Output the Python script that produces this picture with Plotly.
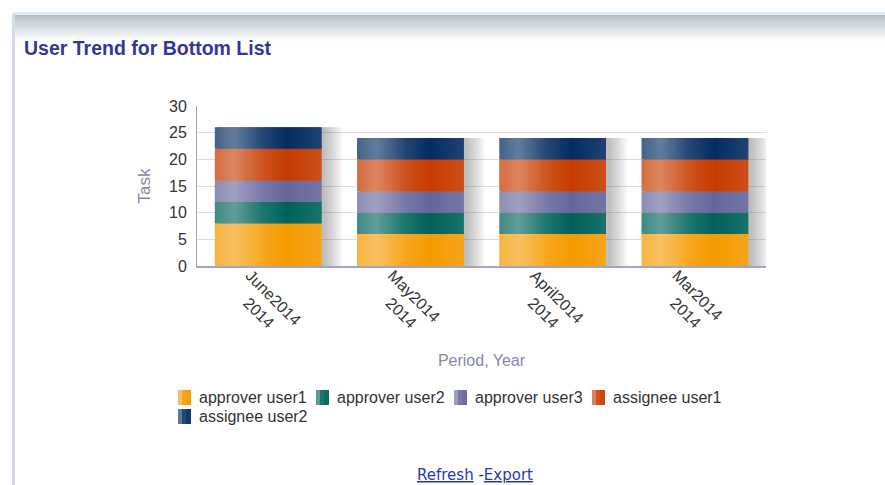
import numpy as np
import plotly.graph_objects as go

# ---- data -------------------------------------------------------------
periods = ["June", "May", "April", "Mar"]
years = ["2014", "2014", "2014", "2014"]
series_names = ["approver user1", "approver user2", "approver user3",
                "assignee user1", "assignee user2"]
approver_user1 = [8, 6, 6, 6]
approver_user2 = [4, 4, 4, 4]
approver_user3 = [4, 4, 4, 4]
assignee_user1 = [6, 6, 6, 6]
assignee_user2 = [4, 4, 4, 4]
y_tick_values = [0, 5, 10, 15, 20, 25, 30]

series_values = [approver_user1, approver_user2, approver_user3,
                 assignee_user1, assignee_user2]
# darkest tone of each series; lighter tones are mixed towards white
series_colors = ["#F59B00", "#00625A", "#66669A", "#C63C00", "#052D62"]

# ---- geometry of the plotting area (px) --------------------------------
W_FIG, H_FIG = 885, 485
L, T, PW, PH = 197, 106, 569, 160


def px(xp):
    return (xp - L) / PW


def py(yp):
    return (T + PH - yp) / PH


def hex_to_rgb(h):
    h = h.lstrip("#")
    return [int(h[i:i + 2], 16) for i in (0, 2, 4)]


def lighten(h, a):
    r, g, b = hex_to_rgb(h)
    mix = [round(c * (1 - a) + 255 * a) for c in (r, g, b)]
    return "rgb({},{},{})".format(*mix)


# cylinder-like shading profile across a bar (0 = left edge, 1 = right edge)
shade_t = [0.0, 0.18, 0.45, 0.68, 1.0]
shade_l = [0.25, 0.38, 0.12, 0.0, 0.10]


def shade(h, t):
    return lighten(h, float(np.interp(t, shade_t, shade_l)))


cats = [f"{p}{y}" for p, y in zip(periods, years)]
tick_text = [f"{p}{y}<br>" + "\u00a0" * 4 + y for p, y in zip(periods, years)]

totals = np.sum(np.array(series_values), axis=0)
bases = np.vstack([np.zeros(len(cats)),
                   np.cumsum(np.array(series_values), axis=0)[:-1]])

BAR_W = 0.75
N_STRIPS = 40
UNIT_PX = PW / len(cats)

fig = go.Figure()

# soft drop shadow to the right of each stacked column
N_SH = 14
for k in range(N_SH, 0, -1):
    ext = (k * 1.4) / UNIT_PX
    fig.add_trace(go.Bar(
        x=cats, y=totals, base=[0] * len(cats),
        offset=-BAR_W / 2 + 2 / UNIT_PX, width=BAR_W + ext,
        marker=dict(color="rgba(70,70,85,0.026)", line=dict(width=0)),
        showlegend=False, hoverinfo="skip"))

# shaded stacked columns, drawn as thin overlapping vertical strips
strip_w = BAR_W / N_STRIPS
for s, (name, vals, col) in enumerate(zip(series_names, series_values, series_colors)):
    for j in range(N_STRIPS):
        t = (j + 0.5) / N_STRIPS
        fig.add_trace(go.Bar(
            x=cats, y=vals, base=bases[s],
            offset=-BAR_W / 2 + j * strip_w,
            width=strip_w * (2.0 if j < N_STRIPS - 1 else 1.0),
            marker=dict(color=shade(col, t), line=dict(width=0)),
            name=name, showlegend=False, hoverinfo="skip"))

axis_col = "#A3A3C2"
title_col = "#8787A8"

fig.update_layout(
    width=W_FIG, height=H_FIG,
    margin=dict(l=L, r=W_FIG - L - PW, t=T, b=H_FIG - T - PH),
    paper_bgcolor="white", plot_bgcolor="white",
    barmode="overlay", bargap=0.25,
    showlegend=False,
    font=dict(family="Liberation Sans, Arial, sans-serif", size=16, color="#333333"),
    xaxis=dict(
        type="category", categoryorder="array", categoryarray=cats,
        tickmode="array", tickvals=cats, ticktext=tick_text,
        tickangle=45, showgrid=False, zeroline=False,
        showline=True, linecolor=axis_col, linewidth=2,
        ticklabelshift=-18, ticklabelstandoff=-8,
        tickfont=dict(size=16, color="#333333"),
        title=dict(text="Period, Year", font=dict(size=16, color=title_col), standoff=12),
        range=[-0.5, len(cats) - 0.5],
    ),
    yaxis=dict(
        range=[0, 30], tickmode="array", tickvals=y_tick_values,
        showgrid=True, gridcolor="#DCDCE6", gridwidth=1, zeroline=False,
        showline=True, linecolor=axis_col, linewidth=1,
        ticks="", ticklabelstandoff=6,
        tickfont=dict(size=16, color="#333333"),
        title=dict(text="Task", font=dict(size=17, color=title_col), standoff=14),
    ),
)

# ---- panel decoration: header band and left border ----------------------
shapes = []
shapes.append(dict(type="rect", xref="paper", yref="paper",
                   x0=px(13), x1=px(W_FIG), y0=py(15), y1=py(12),
                   fillcolor="#E4EAF2", line=dict(width=0), layer="below"))
band_top, band_bot = 15, 42
n_band = band_bot - band_top
for i in range(n_band):
    a = (i / (n_band - 1)) ** 0.9
    shapes.append(dict(type="rect", xref="paper", yref="paper",
                       x0=px(13), x1=px(W_FIG),
                       y0=py(band_top + i + 1), y1=py(band_top + i),
                       fillcolor=lighten("#B5BEC8", a), line=dict(width=0), layer="below"))
shapes.append(dict(type="rect", xref="paper", yref="paper",
                   x0=px(12), x1=px(15), y0=py(H_FIG), y1=py(14),
                   fillcolor="#D3DBE5", line=dict(width=0), layer="below"))
fig.update_layout(shapes=shapes)

# ---- title, legend and links ------------------------------------------
ann = []
ann.append(dict(text="<b>User Trend for Bottom List</b>", xref="paper", yref="paper",
                x=px(22), y=py(48), xanchor="left", yanchor="middle", showarrow=False,
                font=dict(family="Liberation Sans, Arial, sans-serif", size=19.5, color="#35359A")))

legend_pos = [(178, 397), (316, 397), (454, 397), (592, 397), (178, 416)]
for (sx, sy), name, col in zip(legend_pos, series_names, series_colors):
    cx = sx
    for w, t in [(4, 0.15), (4, 0.45), (5, 0.85)]:
        ann.append(dict(text="\u00a0", xref="paper", yref="paper",
                        x=px(cx), y=py(sy), xanchor="left", yanchor="middle",
                        width=w, height=15, bgcolor=shade(col, t), borderpad=0,
                        borderwidth=0, showarrow=False, font=dict(size=6)))
        cx += w
    ann.append(dict(text=name, xref="paper", yref="paper",
                    x=px(sx + 19), y=py(sy), xanchor="left", yanchor="middle",
                    showarrow=False,
                    font=dict(family="Liberation Sans, Arial, sans-serif", size=16, color="#333333")))

ann.append(dict(text="<u>Refresh</u>\u00a0<span style='color:#222'>-</span><u>Export</u>",
                xref="paper", yref="paper", x=px(475), y=py(475),
                xanchor="center", yanchor="middle", showarrow=False,
                font=dict(family="DejaVu Sans, Verdana, sans-serif", size=15, color="#1F3AAE")))
fig.update_layout(annotations=ann)

fig.write_html("out.html")
